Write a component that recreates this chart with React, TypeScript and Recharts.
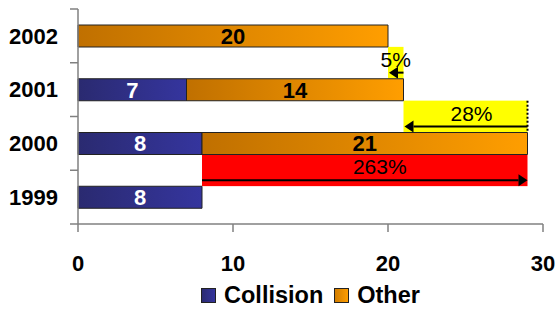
import { BarChart, Bar, XAxis, YAxis, Legend, LabelList, ReferenceArea } from 'recharts';

const years = ['2002', '2001', '2000', '1999'];
const collision = [0, 7, 8, 8];
const other = [20, 14, 21, 0];
const xTicks = [0, 10, 20, 30];

// growth callouts between consecutive years (arrow runs from `annFrom` to `annTo`)
const annLabels = ['5%', '28%', '263%'];
const annUpper = ['2002', '2001', '2000'];
const annLower = ['2001', '2000', '1999'];
const annFrom = [21, 29, 8];
const annTo = [20, 21, 29];
const annColors = ['#ffff00', '#ffff00', '#ff0000'];
const annDotted = [false, true, false];

const data = years.map((year, i) => ({ year, collision: collision[i], other: other[i] }));

const FONT = '"Liberation Sans", Arial, sans-serif';
const BAR_SIZE = 22;
const BAND = 215 / years.length;

// the area spans two whole bands; keep only the gap between the two bars
function Callout(props: any) {
  const { x, width, label, color, dotted, pointsLeft } = props;
  const y = props.y + props.height / 4 + BAR_SIZE / 2;
  const height = props.height / 2 - BAR_SIZE;
  const ay = y + height - 6;
  const head = 9;
  const tip = pointsLeft ? x + 1 : x + width;
  const tail = pointsLeft ? x + width : x;
  const base = pointsLeft ? tip + head : tip - head;
  // text sits a little towards the arrow tail side on the wide boxes
  const tx = x + width / 2 + (width > 60 ? (pointsLeft ? 6 : 15) : 0);
  return (
    <g>
      <rect x={x} y={y} width={width} height={height} fill={color} />
      {dotted && (
        <line x1={x + width} x2={x + width} y1={y} y2={y + height} stroke="#000" strokeWidth={2} strokeDasharray="2 2" />
      )}
      <text x={tx} y={y + 20} textAnchor="middle" fontSize={21} fontFamily={FONT} fill="#000">
        {label}
      </text>
      <line x1={tail} x2={base} y1={ay} y2={ay} stroke="#000" strokeWidth={2} />
      <polygon points={`${tip},${ay} ${base},${ay - 6} ${base},${ay + 6}`} fill="#000" />
    </g>
  );
}

// year label plus tick marks on the band boundaries
function YearTick(props: any) {
  const { x, y, payload, index } = props;
  const half = BAND / 2;
  const last = index === years.length - 1;
  return (
    <g>
      <text x={x} y={y} dy="0.355em" textAnchor="end" fontSize={22} fontWeight="bold" fontFamily={FONT} fill="#000">
        {payload.value}
      </text>
      <line x1={x + 12} x2={x + 20} y1={y - half} y2={y - half} stroke="#808080" strokeWidth={1.5} />
      {last && <line x1={x + 12} x2={x + 20} y1={y + half} y2={y + half} stroke="#808080" strokeWidth={1.5} />}
    </g>
  );
}

function LegendContent() {
  const items = ['Collision', 'Other'];
  return (
    <div style={{ display: 'flex', justifyContent: 'center', alignItems: 'center', height: 30, fontFamily: FONT }}>
      {items.map((name, i) => (
        <div key={name} style={{ display: 'flex', alignItems: 'center', marginLeft: i ? 11 : 0 }}>
          <svg width={15} height={15} style={{ marginRight: 8 }}>
            <defs>
              <linearGradient id={'lg' + i} x1="0" y1="0" x2="1" y2="0">
                <stop offset="0%" stopColor={i ? '#d07c00' : '#2a2a70'} />
                <stop offset="100%" stopColor={i ? '#ff9e00' : '#35359e'} />
              </linearGradient>
            </defs>
            <rect x={0.5} y={0.5} width={14} height={14} fill={`url(#lg${i})`} stroke="#222" />
          </svg>
          <span style={{ fontSize: 23.5, fontWeight: 'bold', color: '#000' }}>{name}</span>
        </div>
      ))}
    </div>
  );
}

export default function App() {
  return (
    <div style={{ position: 'absolute', left: 0, top: 0, width: 556, height: 310, background: '#fff' }}>
      <BarChart
        width={556}
        height={310}
        data={data}
        layout="vertical"
        margin={{ top: 9, right: 13, left: 0, bottom: 0 }}
      >
        <defs>
          <linearGradient id="gCollision" x1="0" y1="0" x2="1" y2="0">
            <stop offset="0%" stopColor="#2a2a70" />
            <stop offset="100%" stopColor="#35359e" />
          </linearGradient>
          <linearGradient id="gOther" x1="0" y1="0" x2="1" y2="0">
            <stop offset="0%" stopColor="#c07000" />
            <stop offset="100%" stopColor="#ff9e00" />
          </linearGradient>
        </defs>
        <XAxis
          type="number"
          domain={[0, 30]}
          ticks={xTicks}
          interval={0}
          height={56}
          tickSize={8}
          tickMargin={23}
          axisLine={{ stroke: '#808080', strokeWidth: 1.5 }}
          tickLine={{ stroke: '#808080', strokeWidth: 1.5 }}
          tick={{ fill: '#000', fontSize: 22, fontWeight: 'bold', fontFamily: FONT }}
        />
        <YAxis
          type="category"
          dataKey="year"
          width={78}
          tickSize={8}
          tickMargin={12}
          tickLine={false}
          interval={0}
          axisLine={{ stroke: '#808080', strokeWidth: 1.5 }}
          tick={(p: any) => <YearTick {...p} />}
        />
        <Legend
          verticalAlign="bottom"
          height={30}
          wrapperStyle={{ left: 78, width: 465 }}
          content={() => <LegendContent />}
        />
        {annLabels.map((label, i) => (
          <ReferenceArea
            key={label}
            x1={Math.min(annFrom[i], annTo[i])}
            x2={Math.max(annFrom[i], annTo[i])}
            y1={annUpper[i]}
            y2={annLower[i]}
            ifOverflow="visible"
            shape={(p: any) => (
              <Callout
                {...p}
                label={label}
                color={annColors[i]}
                dotted={annDotted[i]}
                pointsLeft={annFrom[i] > annTo[i]}
              />
            )}
          />
        ))}
        <Bar dataKey="collision" name="Collision" stackId="a" fill="url(#gCollision)" stroke="#222" strokeWidth={1} barSize={BAR_SIZE} isAnimationActive={false}>
          <LabelList
            dataKey="collision"
            position="center"
            formatter={(v: any) => (v ? v : '')}
            style={{ fill: '#fff', fontSize: 22, fontWeight: 'bold', fontFamily: FONT }}
          />
        </Bar>
        <Bar dataKey="other" name="Other" stackId="a" fill="url(#gOther)" stroke="#222" strokeWidth={1} barSize={BAR_SIZE} isAnimationActive={false}>
          <LabelList
            dataKey="other"
            position="center"
            formatter={(v: any) => (v ? v : '')}
            style={{ fill: '#000', fontSize: 22, fontWeight: 'bold', fontFamily: FONT }}
          />
        </Bar>
      </BarChart>
    </div>
  );
}
